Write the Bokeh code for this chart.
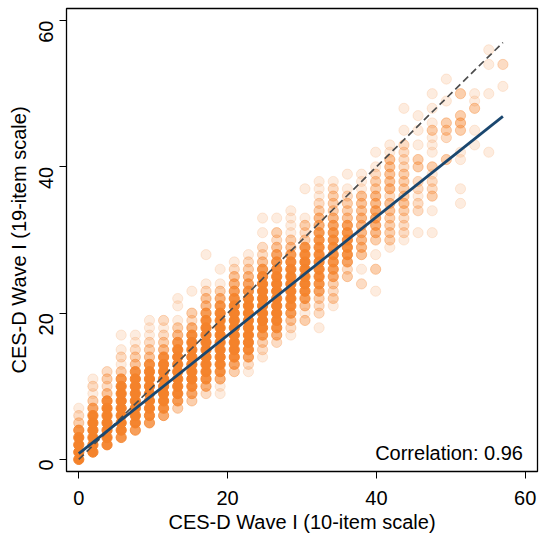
from bokeh.plotting import figure
from bokeh.models import ColumnDataSource, FixedTicker, Label, Range1d
from bokeh.embed import file_html
from bokeh.resources import INLINE


# 10-item score (rescaled to 0-57) on x, 19-item score on y
x_levels = [0.0, 1.9, 3.8, 5.7, 7.6, 9.5, 11.4, 13.3, 15.2, 17.1, 19.0,
            20.9, 22.8, 24.7, 26.6, 28.5, 30.4, 32.3, 34.2, 36.1, 38.0,
            39.9, 41.8, 43.7, 45.6, 47.5, 49.4, 51.3, 53.2, 55.1, 57.0]

# lowest 19-item score in each column
col_start = [0, 1, 2, 3, 4, 5, 6, 7, 8, 9, 9, 12, 12, 14, 16, 17,
             19, 18, 21, 25, 24, 23, 29, 30, 31, 31, 41, 35, 43, 42, 51]

# respondents at each 19-item score, from col_start upwards (estimated)
col_counts = [
    [60, 70, 55, 35, 12, 3, 2, 1],
    [30, 60, 70, 60, 45, 25, 8, 3, 1, 2, 1],
    [18, 45, 65, 70, 60, 40, 18, 4, 2, 3, 2],
    [12, 30, 55, 65, 70, 60, 40, 25, 12, 3, 1, 2, 1, 0, 1],
    [9, 22, 45, 60, 70, 65, 50, 30, 14, 4, 3, 2, 1, 1],
    [9, 18, 38, 55, 62, 62, 50, 30, 14, 4, 3, 2, 1, 1, 1],
    [7, 14, 30, 48, 58, 58, 50, 34, 16, 5, 3, 2, 1, 2],
    [3, 10, 22, 40, 52, 56, 50, 38, 24, 12, 5, 3, 1, 0, 1, 1],
    [3, 8, 18, 32, 46, 54, 54, 46, 32, 15, 6, 2, 3, 0, 0, 1],
    [2, 6, 14, 26, 38, 48, 52, 52, 40, 28, 18, 10, 5, 4, 2, 1, 0, 0, 0, 1],
    [1, 1, 6, 14, 26, 40, 48, 52, 52, 46, 34, 22, 12, 6, 3, 1, 0, 1],
    [3, 8, 18, 32, 44, 50, 50, 46, 36, 25, 15, 9, 6, 4, 2, 1],
    [1, 2, 8, 18, 28, 38, 44, 44, 40, 32, 22, 13, 8, 5, 3, 2, 1],
    [1, 2, 3, 10, 22, 34, 42, 44, 42, 34, 26, 18, 10, 4, 2, 2, 0, 1, 0, 1],
    [2, 6, 14, 24, 34, 38, 38, 34, 30, 24, 18, 12, 8, 4, 2, 3, 0, 1],
    [1, 2, 4, 10, 18, 26, 30, 30, 26, 22, 16, 10, 4, 3, 1, 1, 1, 1],
    [3, 1, 4, 10, 18, 24, 26, 26, 22, 18, 12, 3, 2, 3, 1, 0, 0, 0, 1],
    [1, 0, 2, 2, 3, 8, 12, 16, 18, 18, 16, 14, 12, 10, 6, 5, 3, 2, 1, 1, 1],
    [1, 3, 2, 3, 7, 10, 12, 13, 13, 12, 10, 8, 5, 3, 3, 3, 2, 1],
    [3, 2, 8, 12, 14, 14, 12, 9, 4, 3, 3, 2, 1, 0, 1],
    [2, 0, 1, 0, 4, 5, 5, 5, 5, 5, 4, 4, 4, 1, 1, 1],
    [1, 0, 0, 3, 0, 1, 0, 3, 5, 6, 7, 7, 5, 5, 3, 3, 2, 1, 0, 1],
    [1, 3, 3, 3, 3, 4, 4, 2, 5, 4, 4, 4, 4, 1, 1],
    [1, 2, 2, 2, 3, 4, 3, 3, 3, 3, 2, 2, 2, 2, 0, 1, 0, 0, 1],
    [1, 0, 0, 2, 2, 1, 2, 2, 0, 3, 3, 0, 1, 0, 1, 0, 1],
    [1, 0, 0, 1, 0, 3, 2, 2, 1, 3, 0, 1, 1, 1, 3, 1, 0, 1, 0, 1],
    [3, 0, 0, 2, 3, 3, 0, 0, 1, 0, 0, 1],
    [1, 0, 1, 0, 0, 0, 1, 1, 0, 0, 3, 4, 3, 0, 0, 3],
    [1, 0, 1, 0, 0, 3, 1, 1],
    [1, 0, 0, 0, 0, 0, 0, 0, 1, 0, 0, 0, 1, 0, 1],
    [1, 0, 0, 2],
]

# linear fit and 45-degree reference line
fit_x = [0, 57]
fit_y = [0.8, 46.9]
ref_x = [0, 57]
ref_y = [0, 57]
correlation = 0.96
ticks = [0, 20, 40, 60]

FONT = "Liberation Sans"
ORANGE = "#F4822A"
NAVY = "#1A476F"
MARKER_ALPHA = 0.15

xs, ys, alphas = [], [], []
for x, start, counts in zip(x_levels, col_start, col_counts):
    for i, n in enumerate(counts):
        if n == 0:
            continue
        xs.append(x)
        ys.append(start + i)
        # stacking n translucent markers
        alphas.append(1 - (1 - MARKER_ALPHA) ** n)

source = ColumnDataSource(dict(x=xs, y=ys, alpha=alphas))

p = figure(
    width=541,
    height=535,
    x_range=Range1d(-1.65, 61.65),
    y_range=Range1d(-1.65, 61.65),
    output_backend="svg",
    toolbar_location=None,
    min_border_left=66,
    min_border_right=4,
    min_border_top=8,
    min_border_bottom=56,
)

p.scatter("x", "y", source=source, size=10.2, fill_color=ORANGE,
          line_color=ORANGE, fill_alpha="alpha", line_alpha="alpha",
          line_width=1)
p.line(ref_x, ref_y, line_color="#4D4D4D", line_width=1.7, line_dash="7 4")
p.line(fit_x, fit_y, line_color=NAVY, line_width=2.8)

p.add_layout(Label(x=59.7, y=0.9, text=f"Correlation: {correlation:.2f}",
                   text_align="right", text_baseline="alphabetic",
                   text_font=FONT, text_font_size="20px",
                   text_color="black"))

p.xaxis.axis_label = "CES-D Wave I (10-item scale)"
p.yaxis.axis_label = "CES-D Wave I (19-item scale)"
p.yaxis.major_label_orientation = 1.5708

for ax in (p.xaxis, p.yaxis):
    ax.ticker = FixedTicker(ticks=ticks)
    ax.minor_tick_line_color = None
    ax.major_tick_out = 7
    ax.major_tick_in = 0
    ax.major_tick_line_color = "black"
    ax.axis_line_color = None
    ax.major_label_text_font = FONT
    ax.major_label_text_font_size = "20px"
    ax.major_label_text_color = "black"
    ax.axis_label_text_font = FONT
    ax.axis_label_text_font_size = "20px"
    ax.axis_label_text_font_style = "normal"
    ax.axis_label_text_color = "black"

p.xaxis.major_label_standoff = 12
p.xaxis.axis_label_standoff = 3
p.yaxis.major_label_standoff = 13
p.yaxis.axis_label_standoff = 0

p.grid.grid_line_color = None
p.outline_line_color = "black"
p.outline_line_width = 1.3
p.outline_line_alpha = 1
p.background_fill_color = "white"
p.border_fill_color = "white"

open("out.html", "w").write(file_html(p, INLINE))
